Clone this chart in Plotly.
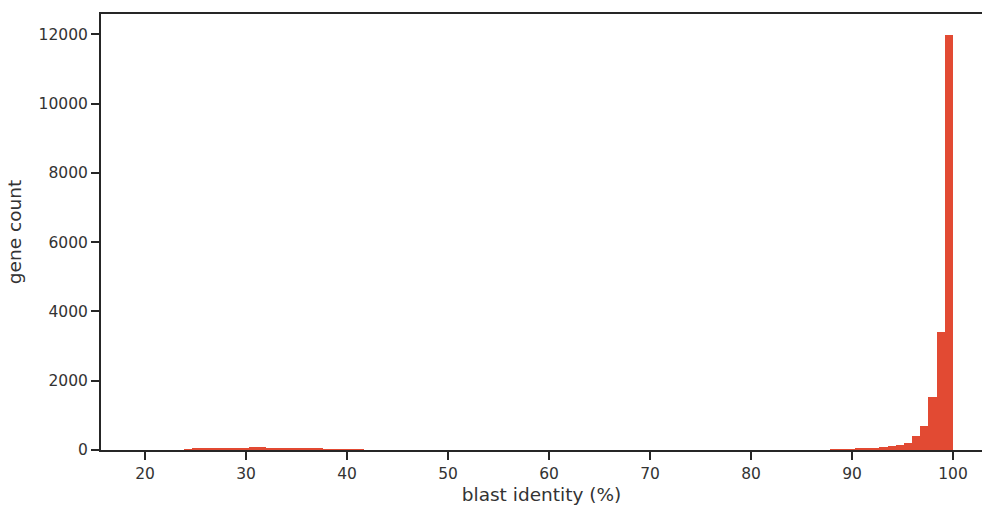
import plotly.graph_objects as go

# Histogram of blast identity: 100 equal-width bins ending at 100 %
bin_end = 100.0
bin_width = 0.81
counts = [
    0, 0, 0, 0, 0, 0,                                   # 19.0 - 23.9
    25, 30, 35, 30, 55, 60, 45, 70, 75, 90, 60,        # 23.9 - 32.8
    45, 70, 40, 35, 30, 30, 25, 25, 20, 20, 15,        # 32.8 - 41.7
    0, 0, 0, 0, 0, 0, 0, 0, 0, 0, 0, 0, 0, 0, 0, 0,    # 41.7 - 54.6
    0, 0, 0, 0, 0, 0, 0, 0, 0, 0, 0, 0, 0, 0, 0, 0,    # 54.6 - 67.6
    0, 0, 0, 0, 0, 0, 0, 0, 0, 0, 0, 0, 0, 0, 0, 0,    # 67.6 - 80.5
    0, 0, 0, 0, 0, 0, 0, 0, 0,                         # 80.5 - 87.8
    8, 15, 20, 30, 45, 60, 85, 120, 150, 200, 405, 692, 1535, 3395, 11980,
]

x_ticks = [20, 30, 40, 50, 60, 70, 80, 90, 100]
y_ticks = [0, 2000, 4000, 6000, 8000, 10000, 12000]

bin_start = bin_end - bin_width * len(counts)
centers = [bin_start + bin_width * (i + 0.5) for i in range(len(counts))]

fig = go.Figure(
    go.Bar(
        x=centers,
        y=counts,
        width=[bin_width] * len(counts),
        marker=dict(color="#E24A33", line=dict(width=0)),
        hoverinfo="x+y",
    )
)

axis_color = "#262626"
text_color = "#333333"
fig.update_layout(
    width=982,
    height=506,
    margin=dict(l=101, r=0, t=14, b=56),
    paper_bgcolor="white",
    plot_bgcolor="white",
    bargap=0,
    showlegend=False,
    font=dict(family="DejaVu Sans", color=text_color, size=15),
)
fig.update_xaxes(
    range=[15.64, 102.87],
    tickvals=x_ticks,
    ticktext=[str(v) for v in x_ticks],
    showgrid=False,
    zeroline=False,
    showline=True,
    mirror=True,
    linecolor=axis_color,
    linewidth=2,
    ticks="outside",
    ticklen=8,
    tickwidth=1.8,
    tickcolor=axis_color,
    tickfont=dict(size=15.5),
    title=dict(text="blast identity (%)", font=dict(size=18.5), standoff=6),
)
fig.update_yaxes(
    range=[0, 12590],
    tickvals=y_ticks,
    ticktext=[str(v) for v in y_ticks],
    showgrid=False,
    zeroline=False,
    showline=True,
    linecolor=axis_color,
    linewidth=2,
    ticks="outside",
    ticklen=8,
    tickwidth=1.8,
    tickcolor=axis_color,
    tickfont=dict(size=15.5),
    title=dict(text="gene count", font=dict(size=18.5), standoff=12),
)

fig.write_html("out.html")
